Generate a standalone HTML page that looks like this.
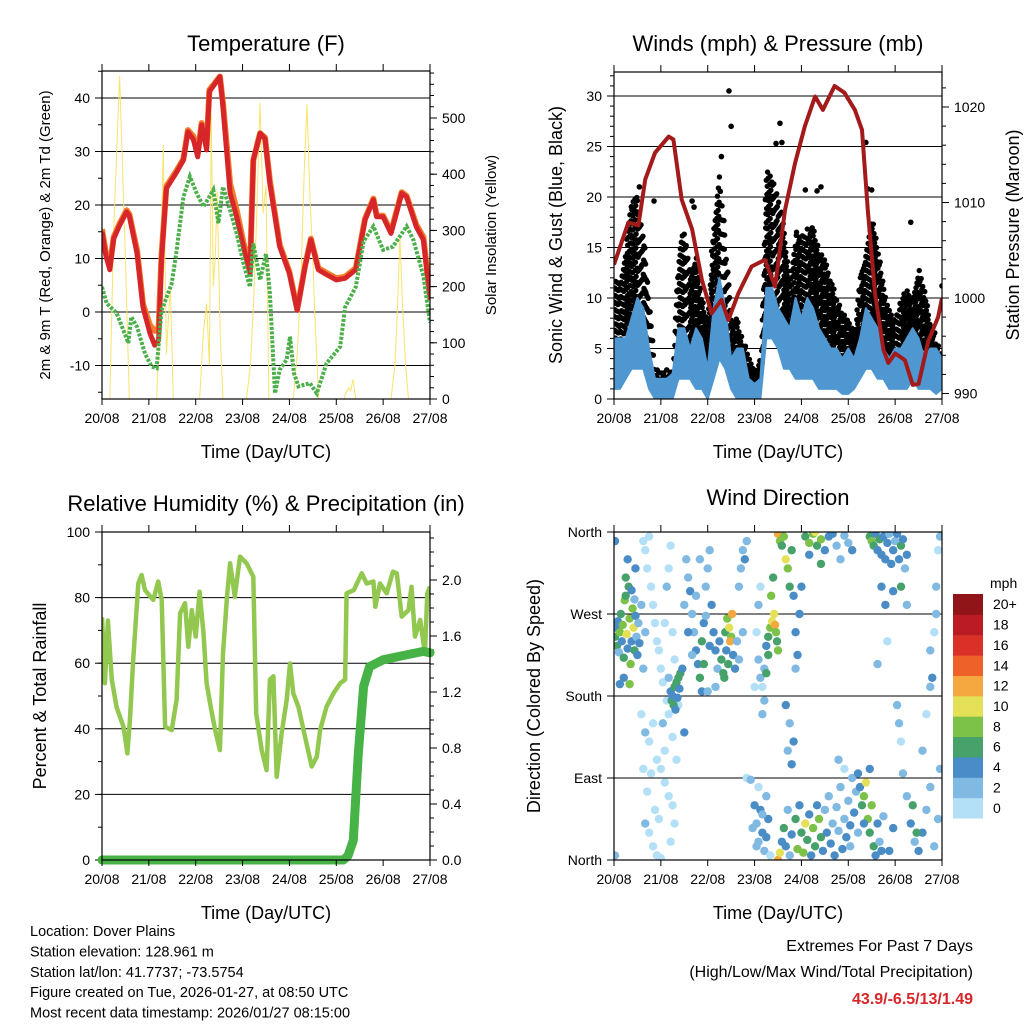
<!DOCTYPE html>
<html><head><meta charset="utf-8"><style>
html,body{margin:0;padding:0;background:#fff;}
svg{display:block;font-family:"Liberation Sans",sans-serif;}
</style></head><body>
<svg id="chart" width="1024" height="1024" viewBox="0 0 1024 1024"></svg>
<script>
// ---------------- DATA ----------------
const dayLabels=["20/08","21/08","22/08","23/08","24/08","25/08","26/08","27/08"];
// Temperature (F): hours since 20/08 00 UTC
const tempHours=[0,2,4,6,9,12.6,14,18,21,24.6,27,29,30.5,33,38,41.7,44,46.8,49,51,53.6,55,60.4,62,65.6,69,72.4,75.8,77.5,81,83.5,86,91,96,100,104,107,110.8,115,120,124.5,130,134.7,139,140.7,144,148,153.5,156,161,164.6,168];
const temp2m=[15,10.5,7.9,13.7,16.2,18.7,18,10.9,0.9,-4,-6.2,-5.3,9.8,23.1,26,28.4,33.7,32.2,29,35,30.3,41.2,44,38.4,22.2,17.8,12.2,7.2,28.4,33.4,32.4,24,12.2,7.2,0.3,8.4,13.5,7.9,7,6,6.3,7.9,17.2,21,17.8,17.8,14.7,22.2,21.5,15.9,13.5,2.3];
const temp9m=[15.5,11,8.5,14,16.5,19,18.3,11.5,1.5,-2.5,-3.5,-3,10.5,23.5,26.3,28.6,34,32.8,29.5,35.3,31,41.5,44,39,24,19,13,7.8,28.4,33.4,32.6,24.5,12.6,7.5,0.5,8.6,13.7,8.2,7.3,6.3,6.6,8.2,17.4,21.2,18,18,15,22.4,21.7,16.3,14,3];
const dewHours=[0,2.4,7.5,13.5,15,18,22,25.4,28,30.5,35.7,38,41.7,45,48.5,52,57,59.6,62,65.6,69,72.4,75.8,77.5,81,84,86,88.6,91,94.6,96.3,98.3,100.6,106.5,110,115,122,124.5,130,134,139,144,149,156,159.5,164.6,168];
const dewPoint=[4.7,1.6,-0.2,-5.8,-0.9,-2.8,-7.8,-10.2,-10.5,0.3,5.3,10.9,21.5,25.3,22.2,19.7,22.8,16.6,23.4,19,14.7,9.1,4.7,12.8,6,10.9,3.5,-15.2,-10.8,-8.9,-4.6,-11.4,-13.9,-13.3,-15.2,-9.6,-6.5,0.9,4.7,13.2,16,11.6,12.2,16,13.5,6.7,-2];
const solarHours=[0,4,6,9,12,14,28,29.5,31.4,33,35,36.5,50,52,53.6,55,56,57,58,59,60.5,62,74,76,77.5,79,81,82.5,84,85.5,98,100,102,103.5,105,106.5,108,109,111,124,125,126.5,127.5,128.5,130,148,150,151,152.6,154,155.5,157,168];
const solarVals=[0,0,300,575,250,0,0,150,452,80,200,0,0,120,170,60,505,200,250,370,120,0,0,60,160,300,527,330,380,0,0,80,220,400,525,360,250,150,0,0,12,20,15,35,0,0,60,130,290,160,60,0,0];
// Winds (mph) & pressure (mb), 3-hour steps
const windHours=[0,3,6,9,12,15,18,21,24,27,30,33,36,39,42,45,48,51,54,57,60,63,66,69,72,75,78,81,84,87,90,93,96,99,102,105,108,111,114,117,120,123,126,129,132,135,138,141,144,147,150,153,156,159,162,165,168];
const windHi=[6,6,6,8,10,9,5,2,2,2,2.5,7,7,5,7,6,3,9,12,9,4,5,5,2,1.5,2,11,11,9,8,7,10,8,10,9,7,6,5,5,4,5,4,6,9,8,7,5,4,5,5,6,7,6,4,5,5,4];
const windLo=[1,1,2,3,3,3,1,0,0,0,0,2,2,2,1,1,0,2,4,3,1,0,0,0,0,0,6,6,5,3,3,2,2,2,2,1,1,1,1,0.5,0.5,1,2,3,3,2,2,1,1,1,1,2,1,1,1,0.5,1];
const gustHi=[12,12,15,20,20,16,10,3,3,3,3,15,17,12,15,10,8,18,23,15,8,8,6,4,3,4,23,22,20,17,12,17,16,17,17,15,14,12,10,9,8,7,13,15,18,15,11,9,8,10,11,10,13,11,8,6,4];
const gustLo=[4,5,6,8,10,8,4,1,1.5,1.5,1,6,7,5,4,3,3,6,8,5,3,2,2,1,1,1,8,10,8,6,6,8,7,8,7,7,6,5,5,4,3,3,6,5,6,6,5,4,4,5,5,5,5,4,4,3,2];
const gustOutHours=[58.9,60,55,85,83,86,98,104,106,129,132,130,152,168,20.5,40,41,13];
const gustOutVals=[30.5,27,24,27.3,25.3,25.4,20.7,20.6,21,25.4,20.7,20.8,17.5,11.2,19.6,19.6,19,21];
const presHours=[0,7.3,12.5,16,21,28,30.4,34.7,40,45,50,55,58.6,63.7,70.5,77.3,82.5,87.6,92.7,97.8,103,107,113,118,123.4,127,130,133.7,138,140.5,144,149,153,156,161,166,168];
const presVals=[1003.5,1007.9,1007.6,1012.4,1015.2,1016.9,1016.6,1010.3,1007.2,1001.9,998.4,999.8,997.7,1000.5,1003.3,1004,1001.2,1009.2,1014.1,1018,1021.1,1019.7,1022.2,1021.5,1019.7,1017.6,1009.2,1000.5,994.6,993.2,994.2,993.5,990.9,991,995.5,998,1000];
// Relative humidity (%) and precipitation (in)
const rhHours=[0,1.5,3,5,7.5,11,13,14.3,16,18.6,20.3,22,26.3,28.8,30.6,32.3,35.7,38.2,40,42.5,44.2,46,48,50,52,53.6,56,58,60.4,62,64,65.6,68,70.7,74,77.5,79,81.8,84.3,86,87.8,89.5,92,94.6,96.3,98,100.6,104,107.4,110,111.7,115,118.5,122,124.5,125.3,129,133,135.6,139,140,142.4,145.8,149,151,153.5,157,158.5,160.3,163,165.4,166.6,168];
const rhVals=[74,53.9,73,55,46.6,40.6,32.5,42.6,61,84.3,86.9,82.3,79.3,84.9,79.3,40.6,39.6,48.8,75.2,78.3,65,76.2,68.1,81.8,69.1,53.9,45.7,39.6,33.5,63,80.3,90.5,80.3,92.5,90.5,86.4,44.7,33.5,27.4,55,56,25.4,38.6,48.8,59.9,50.8,46.7,37.6,28.5,31.5,39.6,46.7,50.8,53.9,55,81.3,82.3,87.4,84.3,84.9,77.2,84.3,81.3,87.9,87.4,74.2,76.2,83.3,68.1,73.2,63,81.3,83.3];
const rainHours=[0,123.6,126,128.7,131.3,134,137,144,154,164.6,168];
const rainVals=[0,0,0.03,0.14,0.76,1.24,1.38,1.43,1.46,1.49,1.48];
// Wind direction scatter
const dirHours=[0.5,1,1.5,2,2.5,3,3.5,4,4.5,5,5.5,6,6.5,7,7.5,8,8.5,9,9.5,10,10.5,11,11.5,12,12.5,13,14,15,16,8,6,7,0.5,0.5,3,5,9,10.5,11,
15,16,17,18,19,20,21,22,23,24,25,26,27,28,29,30,31,32,33,14,16,18,20,22,24,26,28,30,16,18,20,22,24,26,28,30,32,17,19,21,23,29,31,15,25,27,
29,29.5,30,30.5,31,31.5,32,32.5,33,33.5,34,35,36,28,
37,38,39,40,41,42,43,44,45,46,47,48,49,50,51,52,53,45,46,38,40,42,44,36,47,49,54,55,56,57,58,59,60,60.5,59.5,58.5,57.5,56.5,61,62,63,64,65,66,67,68,64,66,48,52,
74,75,76,77,78,79,80,81,82,82.5,83,83.5,84,80.5,81.5,79,78,77,76,74,75,73,72,
68,70,72,73,74,75,76,77,78,79,80,74,71,73,76,78,
84,85,86,87,88,89,90,91,92,93,94,95,96,88,90,92,89,91,93,98,100,102,104,106,108,110,112,114,116,118,120,122,106,100,103,
84,85,86,87,88,89,90,91,93,94,95,96,97,98,99,100,101,102,103,104,105,106,107,108,109,110,111,112,113,114,115,116,117,118,119,120,121,122,123,124,125,126,127,128,129,130,131,132,133,134,135,136,137,138,125,121,118,115,131,128,
131,132,133,134,135,136,137,138,139,140,141,142,143,144,145,146,147,148,149,150,137,139,143,147,150,140,135,
145,146,147,148,150,152,154,156,158,160,162,164,166,167,158,160,162,163,164,165,166,167,165,162,153,155,143,141];
const dirDegrees=[245,255,235,262,228,250,270,240,258,222,285,290,248,232,300,265,215,240,276,255,230,268,245,225,260,238,280,210,250,193,310,330,350,5,193,200,296,286,320,
350,340,320,355,300,280,260,240,230,210,195,260,300,320,345,250,220,190,170,160,140,130,150,110,100,85,70,60,40,30,15,5,2,120,160,135,110,75,95,55,45,20,40,100,150,175,
185,175,180,170,190,165,195,178,200,188,205,210,140,200,
330,310,295,270,250,230,215,200,240,260,300,320,340,280,250,230,210,185,215,250,225,290,330,280,268,235,240,220,205,250,265,255,245,270,240,215,230,200,225,210,240,300,320,340,330,350,220,250,185,190,
220,200,190,210,235,245,255,262,270,258,250,240,230,290,310,225,205,175,160,280,300,250,190,
90,88,60,40,20,55,30,10,70,45,5,80,35,15,50,25,
358,350,345,355,330,320,300,340,290,250,225,270,300,170,150,130,120,105,210,355,348,358,345,352,340,355,358,345,330,356,348,340,325,335,360,
0,8,20,35,15,55,5,28,45,12,60,30,8,40,22,50,5,35,15,60,45,25,10,55,30,70,18,40,5,58,32,80,12,45,25,65,38,90,52,75,95,80,60,70,85,45,30,60,15,5,40,20,10,48,30,15,100,110,100,40,
355,350,345,358,340,352,335,355,330,348,358,325,340,350,358,330,345,352,320,335,300,280,295,300,280,240,215,
170,150,130,95,70,40,20,10,30,55,80,15,45,100,120,160,230,200,250,270,340,355,300,190,60,30,35,10];
const dirSpeeds=[6,4,6,4,2,8,6,4,8,6,8,6,10,4,6,8,8,4,8,10,6,4,2,4,2,4,2,2,2,8,6,4,4,2,4,4,4,2,4,
0,0,0,0,0,0,0,0,0,0,0,0,2,0,0,0,0,0,0,0,2,0,0,0,0,0,0,0,2,0,0,0,0,0,0,0,0,0,0,0,0,0,0,0,2,0,
4,6,4,6,6,4,6,4,6,4,6,4,4,2,
2,2,4,2,2,4,4,6,6,4,2,2,2,4,4,4,2,4,6,4,2,2,2,2,2,4,4,6,6,6,8,10,8,12,12,6,4,6,4,4,2,2,2,2,4,2,2,2,2,2,
2,2,0,2,4,6,8,10,10,12,8,6,8,8,6,6,6,2,2,2,0,0,0,
0,2,4,2,2,4,4,2,2,4,0,0,2,2,2,4,
12,8,6,8,10,8,6,6,4,4,4,4,4,4,2,4,2,4,2,6,8,8,6,8,4,4,4,2,2,2,2,4,6,4,10,
12,10,4,6,4,2,2,4,6,8,4,6,8,10,6,4,4,8,6,4,8,6,4,2,4,2,4,2,4,2,2,2,4,2,4,2,4,2,4,2,4,4,6,8,10,8,6,8,6,4,4,2,4,2,2,2,0,2,4,4,
6,8,6,4,4,6,4,4,4,4,2,4,4,2,4,4,6,4,2,4,4,4,4,6,2,0,2,
2,2,0,2,2,4,2,4,4,2,2,2,2,2,2,0,2,4,0,2,0,2,2,2,6,6,4,4];
const speedLevels=["0","2","4","6","8","10","12","14","16","18","20+"];
const speedColors=["#b3e0f7","#80b9e2","#4a8dc6","#46a26a","#7cc148","#e4e057","#f5a840","#ee6128","#d93127","#bb1b22","#8f1519"];

// ---------------- DRAWING ----------------
const NS="http://www.w3.org/2000/svg";
const svg=document.getElementById('chart');
function mk(tag,attrs,parent){const e=document.createElementNS(NS,tag);for(const k in attrs)e.setAttribute(k,attrs[k]);(parent||svg).appendChild(e);return e;}
function lin(d0,d1,r0,r1){return v=>r0+(v-d0)*(r1-r0)/(d1-d0);}
function txt(x,y,s,size,anchor,parent,extra){const t=mk('text',Object.assign({x:x,y:y,'font-size':size,'text-anchor':anchor||'middle',fill:'#000'},extra||{}),parent);t.textContent=s;return t;}

const panels=[
 {id:'temperature',x0:102,x1:430,y0:71,y1:399},
 {id:'winds',x0:614,x1:942,y0:72,y1:399},
 {id:'humidity',x0:102,x1:430,y0:532,y1:860},
 {id:'direction',x0:614,x1:942,y0:532,y1:860}
];
panels.forEach(p=>{
  p.xs=lin(0,168,p.x0,p.x1);
  const cp=mk('clipPath',{id:'clip-'+p.id});
  mk('rect',{x:p.x0,y:p.y0,width:p.x1-p.x0,height:p.y1-p.y0},cp);
  p.g=mk('g',{});
  
  
  p.plot=mk('g',{'clip-path':'url(#clip-'+p.id+')'},p.g);
});
function frame(p){const r=mk('rect',{x:p.x0,y:p.y0,width:p.x1-p.x0,height:p.y1-p.y0,fill:'none',stroke:'#000','stroke-width':1.2},p.g);
  }
function xAxis(p){
  const g=mk('g',{},p.g);
  
  dayLabels.forEach((d,i)=>{const x=p.xs(i*24);
    mk('line',{x1:x,y1:p.y0,x2:x,y2:p.y0-7,stroke:'#000','stroke-width':1},g);
    mk('line',{x1:x,y1:p.y1,x2:x,y2:p.y1+6,stroke:'#000','stroke-width':1},g);
    const t=txt(x,p.y1+24,d,14,'middle',g);
    
  });
  const t=txt((p.x0+p.x1)/2,p.y1+59,'Time (Day/UTC)',18,'middle',g);
  
}
function yAxis(p,ys,major,minor,labels,side,grid){
  const g=mk('g',{},p.g);
  
  const x=side==='left'?p.x0:p.x1, dir=side==='left'?-1:1;
  minor.forEach(v=>{const y=ys(v);if(y<p.y0-0.5||y>p.y1+0.5)return;mk('line',{x1:x,y1:y,x2:x+dir*4,y2:y,stroke:'#000','stroke-width':1},g);});
  major.forEach((v,i)=>{const y=ys(v);
    mk('line',{x1:x,y1:y,x2:x+dir*7,y2:y,stroke:'#000','stroke-width':1},g);
    if(grid)mk('line',{x1:p.x0,y1:y,x2:p.x1,y2:y,stroke:'#000','stroke-width':1},p.plot);
    const t=txt(x+dir*12,y+5,labels[i],14,side==='left'?'end':'start',g);
    
  });
}
function rotTitle(x,y,s,size,name){const t=txt(x,y,s,size,'middle',svg,{transform:'rotate(-90 '+x+' '+y+')'});
  }
function title(x,y,s,name){const t=txt(x,y,s,22,'middle');}
function path(xsArr,ysArr,xs,ys){return xsArr.map((h,i)=>(i?'L':'M')+xs(h).toFixed(1)+','+ys(ysArr[i]).toFixed(1)).join(' ');}
function range(a,b,s){const r=[];for(let v=a;v<=b+1e-9;v+=s)r.push(+v.toFixed(3));return r;}

// ---- Panel 1: temperature ----
{const p=panels[0];
 const yt=lin(0,10,312,258.5), ys=lin(0,100,399,342.8);
 yAxis(p,yt,[-10,0,10,20,30,40],range(-15,45,5),["-10","0","10","20","30","40"],'left',true);
 yAxis(p,ys,[0,100,200,300,400,500],range(0,580,20),["0","100","200","300","400","500"],'right',false);
 const s=mk('path',{d:path(solarHours,solarVals,p.xs,ys),fill:'none',stroke:'#fbe36a','stroke-width':1},p.plot);
 
 const o=mk('path',{d:path(tempHours,temp9m,p.xs,yt),fill:'none',stroke:'#f47d2a','stroke-width':6,'stroke-linejoin':'round'},p.plot);
 
 const r=mk('path',{d:path(tempHours,temp2m,p.xs,yt),fill:'none',stroke:'#d7262a','stroke-width':5,'stroke-linejoin':'round'},p.plot);
 
 const d=mk('path',{d:path(dewHours,dewPoint,p.xs,yt),fill:'none',stroke:'#4bb04a','stroke-width':4,'stroke-dasharray':'3 1.5'},p.plot);
 
 frame(p);xAxis(p);
 title(266,51,'Temperature (F)','temperature-title');
 rotTitle(50,235,'2m & 9m T (Red, Orange) & 2m Td (Green)',15,'temperature-y-axis-title');
 rotTitle(496,235,'Solar Insolation (Yellow)',15,'solar-y-axis-title');
}
// ---- Panel 2: winds ----
{const p=panels[1];
 const yw=lin(0,10,399,298), yp=lin(1000,1010,298,202.5);
 yAxis(p,yw,[0,5,10,15,20,25,30],range(0,32,1),["0","5","10","15","20","25","30"],'left',true);
 yAxis(p,yp,[990,1000,1010,1020],range(990,1024,2),["990","1000","1010","1020"],'right',false);
 const gg=mk('g',{},p.plot);
 
 windHours.forEach((h,i)=>{
   for(let k=0;k<6;k++){
     const hh=h+k*0.5;
     if(hh>168)break;
     const nxt=i+1<windHours.length?i+1:i;
     const f=k/6;
     const lo=gustLo[i]*(1-f)+gustLo[nxt]*f, hi=gustHi[i]*(1-f)+gustHi[nxt]*f;
     let n=0;
     for(let v=lo+((k*0.47+i*0.31)%1.4);v<=hi;v+=1.4){
       mk('circle',{cx:p.xs(hh+((n%3)*0.17)),cy:yw(v),r:2.7,fill:'#000'},gg);
       n++;
     }
   }
 });
 gustOutHours.forEach((h,i)=>{const c=mk('circle',{cx:p.xs(h),cy:yw(gustOutVals[i]),r:2.8,fill:'#000'},gg);
   });
 let d='M'+windHours.map((h,i)=>p.xs(h).toFixed(1)+','+yw(windHi[i]).toFixed(1)).join(' L');
 for(let i=windHours.length-1;i>=0;i--)d+=' L'+p.xs(windHours[i]).toFixed(1)+','+yw(windLo[i]).toFixed(1);
 const w=mk('path',{d:d+' Z',fill:'#4f97d0',stroke:'#4f97d0','stroke-width':2,'stroke-linejoin':'round'},p.plot);
 
 const pr=mk('path',{d:path(presHours,presVals,p.xs,yp),fill:'none',stroke:'#a31a1a','stroke-width':4,'stroke-linejoin':'round'},p.plot);
 
 frame(p);xAxis(p);
 title(778,51,'Winds (mph) & Pressure (mb)','winds-title');
 rotTitle(562,235,'Sonic Wind & Gust (Blue, Black)',18,'wind-y-axis-title');
 rotTitle(1019,235,'Station Pressure (Maroon)',18,'pressure-y-axis-title');
}
// ---- Panel 3: humidity ----
{const p=panels[2];
 const yr=lin(0,100,860,532), yq=lin(0,1,860,720);
 yAxis(p,yr,[0,20,40,60,80,100],range(0,100,10),["0","20","40","60","80","100"],'left',true);
 yAxis(p,yq,[0,0.4,0.8,1.2,1.6,2.0],range(0,2.3,0.1),["0.0","0.4","0.8","1.2","1.6","2.0"],'right',false);
 const rh=mk('path',{d:path(rhHours,rhVals,p.xs,yr),fill:'none',stroke:'#92c84f','stroke-width':4.5,'stroke-linejoin':'round'},p.plot);
 
 const pc=mk('path',{d:path(rainHours,rainVals,p.xs,yq),fill:'none',stroke:'#47b347','stroke-width':9,'stroke-linejoin':'round','stroke-linecap':'round'},p.g);
 
 frame(p);xAxis(p);
 title(266,511,'Relative Humidity (%) & Precipitation (in)','humidity-title');
 rotTitle(46,696,'Percent & Total Rainfall',18,'humidity-y-axis-title');
}
// ---- Panel 4: wind direction ----
{const p=panels[3];
 const yd=lin(0,360,860,532);
 yAxis(p,yd,[0,90,180,270,360],range(0,360,90),["North","East","South","West","North"],'left',true);
 const g=mk('g',{},p.plot);
 
 dirHours.forEach((h,i)=>{const lvl=Math.min(10,Math.floor(dirSpeeds[i]/2));
   const c=mk('circle',{cx:p.xs(h),cy:yd(dirDegrees[i]),r:4.2,fill:speedColors[lvl]},g);
   });
 frame(p);xAxis(p);
 title(778,505,'Wind Direction','direction-title');
 rotTitle(540,696,'Direction (Colored By Speed)',18,'direction-y-axis-title');
 const lg=mk('g',{});
 
 const t0=txt(990,588,'mph',14,'start',lg);
 
 const bh=224/11;
 speedLevels.forEach((s,i)=>{const y=594+(10-i)*bh;
   const r=mk('rect',{x:953,y:y,width:30,height:bh+0.5,fill:speedColors[i]},lg);
   
   const t=txt(993,y+bh/2+5,s,14,'start',lg);
   });
}
// ---- footer ----
const foot=["Location: Dover Plains","Station elevation: 128.961 m","Station lat/lon: 41.7737; -73.5754","Figure created on Tue, 2026-01-27, at 08:50 UTC","Most recent data timestamp: 2026/01/27 08:15:00"];
foot.forEach((s,i)=>{const t=txt(30,936+i*20.4,s,14.5,'start');});
{let t=txt(973,951,'Extremes For Past 7 Days',16,'end');
 t=txt(973,977,'(High/Low/Max Wind/Total Precipitation)',16,'end');
 t=txt(973,1004,'43.9/-6.5/13/1.49',16,'end',svg,{fill:'#d7262a','font-weight':'bold'});}
</script>
</body></html>
